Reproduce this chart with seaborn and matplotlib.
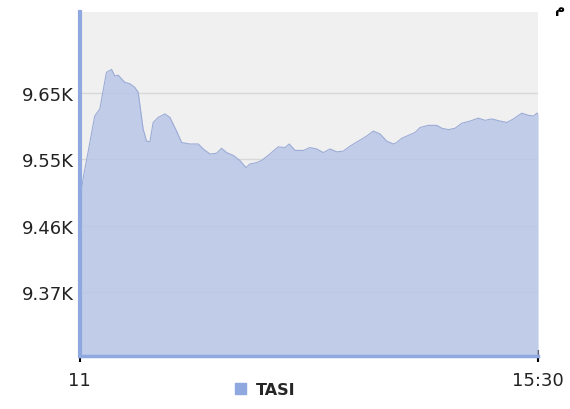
"""TASI intraday area chart."""

import matplotlib
matplotlib.use("Agg")
import matplotlib.pyplot as plt
import matplotlib.patches as mpatches
import numpy as np
import pandas as pd
import seaborn as sns

# minutes after 11:00, index level
minutes = [0, 2.4, 4.9, 8.8, 11.8, 15.7, 18.7, 20.6, 22.6, 26.5, 29.5, 32.4,
           34.4, 37.3, 39.3, 41.3, 43.2, 46.2, 50.1, 53.1, 57.0, 60.0, 64.9,
           69.8, 72.7, 76.7, 80.6, 83.5, 86.5, 90.4, 94.3, 97.9, 100.2, 104.2,
           107.1, 112.0, 116.9, 120.9, 123.4, 126.8, 131.7, 135.6, 139.6,
           143.5, 147.4, 151.4, 155.2, 159.2, 164.1, 169.0, 172.9, 176.9,
           180.8, 184.7, 186.7, 189.7, 192.6, 197.5, 200.5, 205.4, 210.3,
           213.3, 217.2, 221.1, 225.1, 230.0, 234.8, 238.8, 242.7, 247.6,
           251.6, 255.5, 260.4, 264.3, 267.3, 269.3, 270]
tasi = [9502, 9537, 9568, 9618, 9628, 9679, 9683, 9674, 9675, 9665, 9663, 9658,
        9651, 9600, 9583, 9582, 9609, 9616, 9621, 9616, 9597, 9581, 9579,
        9579, 9572, 9565, 9566, 9573, 9567, 9563, 9556, 9546, 9551, 9553,
        9556, 9565, 9575, 9574, 9579, 9570, 9570, 9574, 9572,
        9567, 9572, 9568, 9569, 9576, 9583, 9590, 9597, 9593,
        9583, 9579, 9581, 9587, 9590, 9595, 9602, 9605, 9605,
        9601, 9599, 9601, 9608, 9611, 9615, 9612, 9614, 9611,
        9609, 9614, 9622, 9619, 9618, 9622, 9620]

y_ticks = [9372, 9465, 9558, 9650]
y_tick_labels = ["9.37K", "9.46K", "9.55K", "9.65K"]
x_ticks = [0, 270]
x_tick_labels = ["11", "15:30"]

FILL = "#b8c6e7"
EDGE = "#9babd6"
AXIS_BLUE = "#8fa8e0"

sns.set_style("white", {"axes.facecolor": "#f0f0f0",
                        "xtick.bottom": True})
plt.rcParams["font.family"] = ["DejaVu Sans"]

df = pd.DataFrame({"minute": minutes, "value": tasi})

fig = plt.figure(figsize=(5.7, 4.1), dpi=100)
ax = fig.add_axes([0.140, 0.129, 0.804, 0.839])

ax.fill_between(df["minute"], df["value"], 9200, color=FILL, lw=0, alpha=0.85)
sns.lineplot(data=df, x="minute", y="value", ax=ax, color=EDGE, lw=0.8)

ax.set_xlim(0, 270)
ax.set_ylim(9283, 9763)
ax.set_yticks(y_ticks)
ax.set_yticklabels(y_tick_labels)
ax.set_xticks(x_ticks)
ax.set_xticklabels(x_tick_labels)
ax.set_xlabel("")
ax.set_ylabel("")
ax.yaxis.grid(True, color="#d8d8d8", lw=1)
ax.set_axisbelow(True)

ax.tick_params(axis="y", length=0, pad=4, labelsize=13, labelcolor="#222222")
ax.tick_params(axis="x", bottom=True, length=9, width=1.5, color="black",
               direction="inout", pad=6, labelsize=13, labelcolor="#222222")

for side in ["top", "right"]:
    ax.spines[side].set_visible(False)
ax.spines["left"].set_color(AXIS_BLUE)
ax.spines["left"].set_linewidth(3)
ax.spines["bottom"].set_color(AXIS_BLUE)
ax.spines["bottom"].set_linewidth(2.5)
ax.spines["bottom"].set_zorder(1)

handle = mpatches.Patch(color="#8fa8e0", label="TASI")
fig.legend(handles=[handle], loc="center", bbox_to_anchor=(0.465, 0.048),
           frameon=False, handlelength=0.7, handleheight=0.7,
           handletextpad=0.6, prop={"weight": "bold", "size": 11.5})

fig.text(0.992, 0.996, "م", ha="right", va="top", fontsize=10,
         fontweight="bold", color="black")

fig.savefig("out.png", dpi=100)
